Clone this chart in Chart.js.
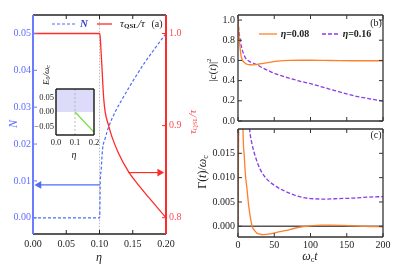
<!DOCTYPE html>
<html>
<head>
<meta charset="utf-8">
<script src="https://cdn.jsdelivr.net/npm/chart.js@4.4.1/dist/chart.umd.min.js"></script>
<style>
  body { margin: 0; background: #fff; }
  #wrap { position: relative; width: 395px; height: 279px; overflow: hidden; }
  canvas { position: absolute; }
</style>
</head>
<body>
<div id="wrap">
  <canvas id="chartA" width="200" height="279" style="left:0px;top:0px"></canvas>
  <canvas id="chartInset" width="80" height="110" style="left:25px;top:55px"></canvas>
  <canvas id="chartB" width="200" height="130" style="left:195px;top:0px"></canvas>
  <canvas id="chartC" width="200" height="159" style="left:195px;top:120px"></canvas>
</div>
<script>
// (a) N and tau_QSL/tau against eta
const etaN = [0, 0.1003, 0.1008, 0.101, 0.1025, 0.1045, 0.1085, 0.1135, 0.1236, 0.1336, 0.1436, 0.1562, 0.1688, 0.1844, 0.2];
const valN = [0, 0, 0.005, 0.0085, 0.013, 0.0184, 0.0215, 0.0245, 0.0287, 0.032, 0.0351, 0.0388, 0.0423, 0.0462, 0.05];
const etaTau = [0, 0.1, 0.101, 0.102, 0.1035, 0.105, 0.1065, 0.1085, 0.1135, 0.1186, 0.1286, 0.1436, 0.1587, 0.174, 0.187, 0.2];
const valTau = [1.0, 1.0, 0.997, 0.985, 0.966, 0.945, 0.928, 0.915, 0.9005, 0.888, 0.870, 0.850, 0.8353, 0.822, 0.811, 0.800];
const arrowNEta = [0.101, 0.009];
const arrowNVal = [0.0089, 0.0089];
const arrowTauEta = [0.1436, 0.1905];
const arrowTauVal = [0.849, 0.849];
const critEta = [0.1, 0.1];
const critN = [-0.005, 0.056];
const ticksEta = [0, 0.05, 0.1, 0.15, 0.2];
const labelsEta = ['0.00', '0.05', '0.10', '0.15', '0.20'];
const ticksN = [0, 0.01, 0.02, 0.03, 0.04, 0.05];
const labelsN = ['0.00', '0.01', '0.02', '0.03', '0.04', '0.05'];
const ticksTau = [0.8, 0.9, 1.0];
const labelsTau = ['0.8', '0.9', '1.0'];

// inset: E0/omega_c against eta
const insetEta = [0.1, 0.2];
const insetE0 = [0, -0.07];
const insetBandEta = [0, 0.2];
const insetBandE0 = [0, 0];
const insetCritE = [-0.08, 0.08];
const insetTicksEta = [0, 0.1, 0.2];
const insetLabelsEta = ['0.0', '0.1', '0.2'];
const insetTicksE = [-0.05, 0, 0.05];
const insetLabelsE = ['\u22120.05', '0.00', '0.05'];

// (b) |c(t)|^2
const tOrangeB = [0, 0.8, 2.2, 4.1, 6, 7.7, 10, 12.4, 16, 21, 28, 35, 45, 54, 63, 72, 85, 100, 120, 140, 160, 180, 200];
const cOrangeB = [1.0, 0.905, 0.778, 0.65, 0.605, 0.587, 0.572, 0.562, 0.557, 0.556, 0.562, 0.571, 0.583, 0.593, 0.599, 0.601, 0.602, 0.602, 0.600, 0.598, 0.597, 0.597, 0.597];
const tPurpleB = [0, 1, 2.2, 3.5, 5.5, 7.7, 10, 13, 17, 21, 26, 33, 44, 55, 72, 85, 99, 118, 140, 163, 182, 200];
const cPurpleB = [1.0, 0.91, 0.84, 0.78, 0.714, 0.665, 0.628, 0.604, 0.585, 0.572, 0.558, 0.53, 0.492, 0.46, 0.422, 0.395, 0.372, 0.333, 0.288, 0.245, 0.22, 0.197];
const ticksT = [0, 50, 100, 150, 200];
const labelsT = ['0', '50', '100', '150', '200'];
const ticksC = [0, 0.2, 0.4, 0.6, 0.8, 1.0];
const labelsC = ['0.0', '0.2', '0.4', '0.6', '0.8', '1.0'];

// (c) Gamma(t)/omega_c
const tOrangeC = [0, 0.5, 1, 2, 3, 4.5, 5.8, 6.9, 8.7, 10, 12.4, 14.6, 17.9, 20, 23, 26, 30, 35, 42, 49, 58, 67, 78, 90, 100, 115, 130, 145, 160, 175, 200];
const gOrangeC = [0, 0.012, 0.025, 0.045, 0.055, 0.05, 0.035, 0.02, 0.0144, 0.011, 0.0077, 0.0044, 0.0011, -0.0002, -0.0009, -0.0014, -0.0016, -0.0017, -0.0016, -0.0014, -0.0011, -0.00085, -0.0004, -0.00006, 0.0001, 0.00025, 0.00025, 0.00018, 0.00008, -0.00003, -0.0001];
const tPurpleC = [0, 0.5, 1, 3, 6, 10, 13, 16, 19.2, 23.8, 30.6, 39.8, 53.6, 72, 90, 100, 120, 140, 160, 180, 200];
const gPurpleC = [0, 0.015, 0.03, 0.06, 0.055, 0.038, 0.027, 0.02, 0.017, 0.0144, 0.0117, 0.0097, 0.0081, 0.00675, 0.0059, 0.0057, 0.0056, 0.0057, 0.0058, 0.006, 0.0061];
const zeroT = [0, 200];
const zeroG = [0, 0];
const ticksG = [0, 0.005, 0.01, 0.015];
const labelsG = ['0.000', '0.005', '0.010', '0.015'];

const F = "'Liberation Serif', 'DejaVu Serif', serif";
const blueAxis = '#6b7cff', blueLine = '#4f6cf5', blueText = '#5b6dff';
const red = '#ff2b2b', redText = '#ff4d4d';
const orange = '#ff7f2a', purple = '#8a3ce6', green = '#74e03a', lavender = '#dcdcfa';
const dark = '#333';

const pts = (xs, ys) => xs.map((x, i) => ({ x: x, y: ys[i] }));
const part = (text, size, o = {}) => ({
  text: text,
  font: (o.italic ? 'italic ' : '') + (o.bold ? 'bold ' : '') + size + 'px ' + F,
  dy: o.dy || 0
});

function rich(ctx, x, y, parts, rot, color) {
  ctx.save();
  ctx.translate(x, y);
  if (rot) ctx.rotate(rot);
  ctx.fillStyle = color;
  ctx.textBaseline = 'middle';
  ctx.textAlign = 'left';
  let w = 0;
  parts.forEach(p => { ctx.font = p.font; w += ctx.measureText(p.text).width; });
  let cx = -w / 2;
  parts.forEach(p => {
    ctx.font = p.font;
    ctx.fillText(p.text, cx, p.dy);
    cx += ctx.measureText(p.text).width;
  });
  ctx.restore();
}

// frame, inward ticks, legends and labels
function deco(cfg) {
  return {
    id: 'deco',
    afterDraw(chart) {
      const ctx = chart.ctx, a = chart.chartArea;
      const ox = cfg.ox, oy = cfg.oy;
      ctx.save();
      ctx.setLineDash([]);
      (cfg.ticks || []).forEach(t => {
        const s = chart.scales[t.scale];
        ctx.strokeStyle = t.color;
        ctx.lineWidth = 1;
        s.ticks.forEach(tk => {
          const p = s.getPixelForValue(tk.value);
          t.sides.forEach(side => {
            ctx.beginPath();
            if (side === 'bottom') { ctx.moveTo(p, a.bottom); ctx.lineTo(p, a.bottom - t.len); }
            if (side === 'top') { ctx.moveTo(p, a.top); ctx.lineTo(p, a.top + t.len); }
            if (side === 'left') { ctx.moveTo(a.left, p); ctx.lineTo(a.left + t.len, p); }
            if (side === 'right') { ctx.moveTo(a.right, p); ctx.lineTo(a.right - t.len, p); }
            ctx.stroke();
          });
        });
      });
      (cfg.frame || []).forEach(f => {
        ctx.strokeStyle = f.color;
        ctx.lineWidth = f.width;
        ctx.beginPath();
        if (f.side === 'top') { ctx.moveTo(a.left, a.top); ctx.lineTo(a.right, a.top); }
        if (f.side === 'bottom') { ctx.moveTo(a.left, a.bottom); ctx.lineTo(a.right, a.bottom); }
        if (f.side === 'left') { ctx.moveTo(a.left, a.top); ctx.lineTo(a.left, a.bottom); }
        if (f.side === 'right') { ctx.moveTo(a.right, a.top); ctx.lineTo(a.right, a.bottom); }
        ctx.stroke();
      });
      (cfg.lines || []).forEach(l => {
        ctx.strokeStyle = l.color;
        ctx.lineWidth = l.width || 1.3;
        ctx.setLineDash(l.dash || []);
        ctx.beginPath();
        ctx.moveTo(l.x1 - ox, l.y1 - oy);
        ctx.lineTo(l.x2 - ox, l.y2 - oy);
        ctx.stroke();
      });
      ctx.setLineDash([]);
      (cfg.texts || []).forEach(t => rich(ctx, t.x - ox, t.y - oy, t.parts, t.rot, t.color));
      ctx.restore();
    }
  };
}

function axis(o) {
  return {
    type: 'linear',
    position: o.position,
    min: o.min,
    max: o.max,
    bounds: 'data',
    grid: { display: false, drawTicks: false, tickLength: 0 },
    border: { display: false },
    afterBuildTicks: s => { s.ticks = o.values.map(v => ({ value: v })); },
    afterFit: s => { if (o.width !== undefined) s.width = o.width; if (o.height !== undefined) s.height = o.height; },
    ticks: {
      display: o.labels !== undefined,
      autoSkip: false,
      maxRotation: 0,
      padding: o.padding || 3,
      color: o.color || '#222',
      font: { family: F, size: o.size || 10 },
      callback: (v, i) => (o.labels ? o.labels[i] : '')
    }
  };
}

const base = pad => ({
  responsive: false,
  animation: false,
  devicePixelRatio: 1,
  events: [],
  layout: { padding: pad },
  plugins: { legend: { display: false }, tooltip: { enabled: false } }
});

const curve = (data, color, o = {}) => Object.assign({
  data: data,
  borderColor: color,
  borderWidth: 1.3,
  pointRadius: 0,
  fill: false,
  cubicInterpolationMode: 'monotone'
}, o);

// panel (a)
new Chart(document.getElementById('chartA'), {
  type: 'line',
  data: {
    datasets: [
      curve(pts(arrowNEta, arrowNVal), blueLine, { yAxisID: 'yN', cubicInterpolationMode: 'default', tension: 0, borderWidth: 1.2,
        pointStyle: 'triangle', pointRadius: [0, 4.5], pointRotation: -90, pointBackgroundColor: blueLine, pointBorderWidth: 0 }),
      curve(pts(arrowTauEta, arrowTauVal), red, { yAxisID: 'yT', cubicInterpolationMode: 'default', tension: 0, borderWidth: 1.2,
        pointStyle: 'triangle', pointRadius: [0, 4.5], pointRotation: 90, pointBackgroundColor: red, pointBorderWidth: 0 }),
      curve(pts(etaTau, valTau), red, { yAxisID: 'yT' }),
      curve(pts(etaN, valN), blueLine, { yAxisID: 'yN', borderDash: [3, 2], borderWidth: 1.2 }),
      curve(pts(critEta, critN), '#bbbbbb', { yAxisID: 'yN', borderDash: [1.5, 1.5], borderWidth: 1, cubicInterpolationMode: 'default', tension: 0 })
    ]
  },
  options: Object.assign(base({ top: 15, left: 0, right: 0, bottom: 0 }), {
    scales: {
      x: axis({ position: 'bottom', min: 0, max: 0.2, values: ticksEta, labels: labelsEta, height: 45, padding: 4 }),
      yN: axis({ position: 'left', min: -0.0044, max: 0.055, values: ticksN, labels: labelsN, width: 33, padding: 2, color: blueText }),
      yT: axis({ position: 'right', min: 0.7823, max: 1.0201, values: ticksTau, labels: labelsTau, width: 34, padding: 3, color: redText })
    }
  }),
  plugins: [deco({
    ox: 0, oy: 0,
    ticks: [
      { scale: 'x', sides: ['bottom', 'top'], color: '#222', len: 4 },
      { scale: 'yN', sides: ['left'], color: blueAxis, len: 4 },
      { scale: 'yT', sides: ['right'], color: red, len: 4 }
    ],
    frame: [
      { side: 'top', color: '#222', width: 1.3 },
      { side: 'bottom', color: '#222', width: 1.3 },
      { side: 'left', color: blueAxis, width: 2 },
      { side: 'right', color: red, width: 2 }
    ],
    lines: [
      { x1: 52, y1: 24, x2: 75, y2: 24, color: blueLine, dash: [3, 2], width: 1.2 },
      { x1: 97, y1: 24, x2: 112, y2: 24, color: red, width: 1.3 }
    ],
    texts: [
      { x: 84, y: 24, color: '#3344cc', parts: [part('N', 11, { italic: true, bold: true })] },
      { x: 132.5, y: 24, color: '#222', parts: [part('\u03c4', 11, { italic: true }), part('QSL', 7, { bold: true, dy: 2.5 }), part('/\u03c4', 11, { italic: true })] },
      { x: 157, y: 24, color: '#222', parts: [part('(a)', 10)] },
      { x: 14, y: 124, rot: -Math.PI / 2, color: blueText, parts: [part('N', 12, { italic: true })] },
      { x: 193, y: 122, rot: -Math.PI / 2, color: redText, parts: [part('\u03c4', 11, { italic: true }), part('QSL', 7, { dy: 2.5 }), part('/\u03c4', 11, { italic: true })] },
      { x: 99, y: 258, color: '#222', parts: [part('\u03b7', 12, { italic: true })] }
    ]
  })]
});

// inset
new Chart(document.getElementById('chartInset'), {
  type: 'line',
  data: {
    datasets: [
      curve(pts(insetEta, insetE0), green, { cubicInterpolationMode: 'default', tension: 0, borderWidth: 1.3 }),
      curve(pts(critEta, insetCritE), '#aaaaaa', { borderDash: [2, 2], borderWidth: 0.8, cubicInterpolationMode: 'default', tension: 0 }),
      curve(pts(insetBandEta, insetBandE0), lavender, { fill: 'end', backgroundColor: lavender, borderWidth: 0, cubicInterpolationMode: 'default', tension: 0 })
    ]
  },
  options: Object.assign(base({ top: 34, left: 0, right: 11, bottom: 0 }), {
    scales: {
      x: axis({ position: 'bottom', min: 0, max: 0.2, values: insetTicksEta, labels: insetLabelsEta, height: 30, padding: 3, size: 8.5 }),
      y: axis({ position: 'left', min: -0.08, max: 0.08, values: insetTicksE, labels: insetLabelsE, width: 31, padding: 2, size: 8.5 })
    }
  }),
  plugins: [deco({
    ox: 25, oy: 55,
    frame: [
      { side: 'top', color: '#222', width: 1.5 },
      { side: 'bottom', color: '#222', width: 1.5 },
      { side: 'left', color: '#222', width: 1.5 },
      { side: 'right', color: '#222', width: 1.5 }
    ],
    texts: [
      { x: 46.5, y: 75, rot: -Math.PI / 2, color: '#222', parts: [part('E', 9, { italic: true }), part('0', 6, { dy: 2 }), part('/\u03c9', 9, { italic: true }), part('c', 6, { dy: 2 })] },
      { x: 74, y: 155, color: '#222', parts: [part('\u03b7', 10, { italic: true })] }
    ]
  })]
});

// panel (b)
new Chart(document.getElementById('chartB'), {
  type: 'line',
  data: {
    datasets: [
      curve(pts(tOrangeB, cOrangeB), orange),
      curve(pts(tPurpleB, cPurpleB), purple, { borderDash: [4, 2] })
    ]
  },
  options: Object.assign(base({ top: 15, left: 0, right: 12, bottom: 0 }), {
    scales: {
      x: axis({ position: 'bottom', min: 0, max: 200, values: ticksT, height: 5 }),
      y: axis({ position: 'left', min: 0, max: 1.05, values: ticksC, labels: labelsC, width: 43, padding: 3 })
    }
  }),
  plugins: [deco({
    ox: 195, oy: 0,
    ticks: [
      { scale: 'x', sides: ['bottom', 'top'], color: dark, len: 4 },
      { scale: 'y', sides: ['left', 'right'], color: dark, len: 4 }
    ],
    frame: [
      { side: 'top', color: dark, width: 1.3 },
      { side: 'bottom', color: dark, width: 1.3 },
      { side: 'left', color: dark, width: 1.3 },
      { side: 'right', color: dark, width: 1.3 }
    ],
    lines: [
      { x1: 259, y1: 34, x2: 277, y2: 34, color: orange, width: 1.3 },
      { x1: 322, y1: 34, x2: 338, y2: 34, color: purple, dash: [4, 2], width: 1.3 }
    ],
    texts: [
      { x: 295, y: 34, color: '#222', parts: [part('\u03b7', 10, { italic: true, bold: true }), part('=0.08', 10, { bold: true })] },
      { x: 357, y: 34, color: '#222', parts: [part('\u03b7', 10, { italic: true, bold: true }), part('=0.16', 10, { bold: true })] },
      { x: 376, y: 23, color: '#222', parts: [part('(b)', 10)] },
      { x: 213, y: 70, rot: -Math.PI / 2, color: '#222', parts: [part('|', 11), part('c', 11, { italic: true }), part('(', 11), part('t', 11, { italic: true }), part(')|', 11), part('2', 7, { dy: -4 })] }
    ]
  })]
});

// panel (c)
new Chart(document.getElementById('chartC'), {
  type: 'line',
  data: {
    datasets: [
      curve(pts(tOrangeC, gOrangeC), orange),
      curve(pts(tPurpleC, gPurpleC), purple, { borderDash: [4, 2] }),
      curve(pts(zeroT, zeroG), '#555555', { borderWidth: 1.5, cubicInterpolationMode: 'default', tension: 0 })
    ]
  },
  options: Object.assign(base({ top: 5, left: 0, right: 12, bottom: 0 }), {
    scales: {
      x: axis({ position: 'bottom', min: 0, max: 200, values: ticksT, labels: labelsT, height: 42, padding: 2 }),
      y: axis({ position: 'left', min: -0.0022, max: 0.02, values: ticksG, labels: labelsG, width: 43, padding: 3 })
    }
  }),
  plugins: [deco({
    ox: 195, oy: 120,
    ticks: [
      { scale: 'x', sides: ['bottom', 'top'], color: dark, len: 4 },
      { scale: 'y', sides: ['left', 'right'], color: dark, len: 4 }
    ],
    frame: [
      { side: 'top', color: dark, width: 1.3 },
      { side: 'bottom', color: dark, width: 1.3 },
      { side: 'left', color: dark, width: 1.3 },
      { side: 'right', color: dark, width: 1.3 }
    ],
    texts: [
      { x: 376, y: 135, color: '#222', parts: [part('(c)', 10)] },
      { x: 203, y: 172, rot: -Math.PI / 2, color: '#222', parts: [part('\u0393(', 12), part('t', 12, { italic: true }), part(')/', 12), part('\u03c9', 12, { italic: true }), part('c', 8, { dy: 3 })] },
      { x: 310, y: 257, color: '#222', parts: [part('\u03c9', 12, { italic: true }), part('c', 8, { dy: 3 }), part('t', 12, { italic: true })] }
    ]
  })]
});
</script>
</body>
</html>
